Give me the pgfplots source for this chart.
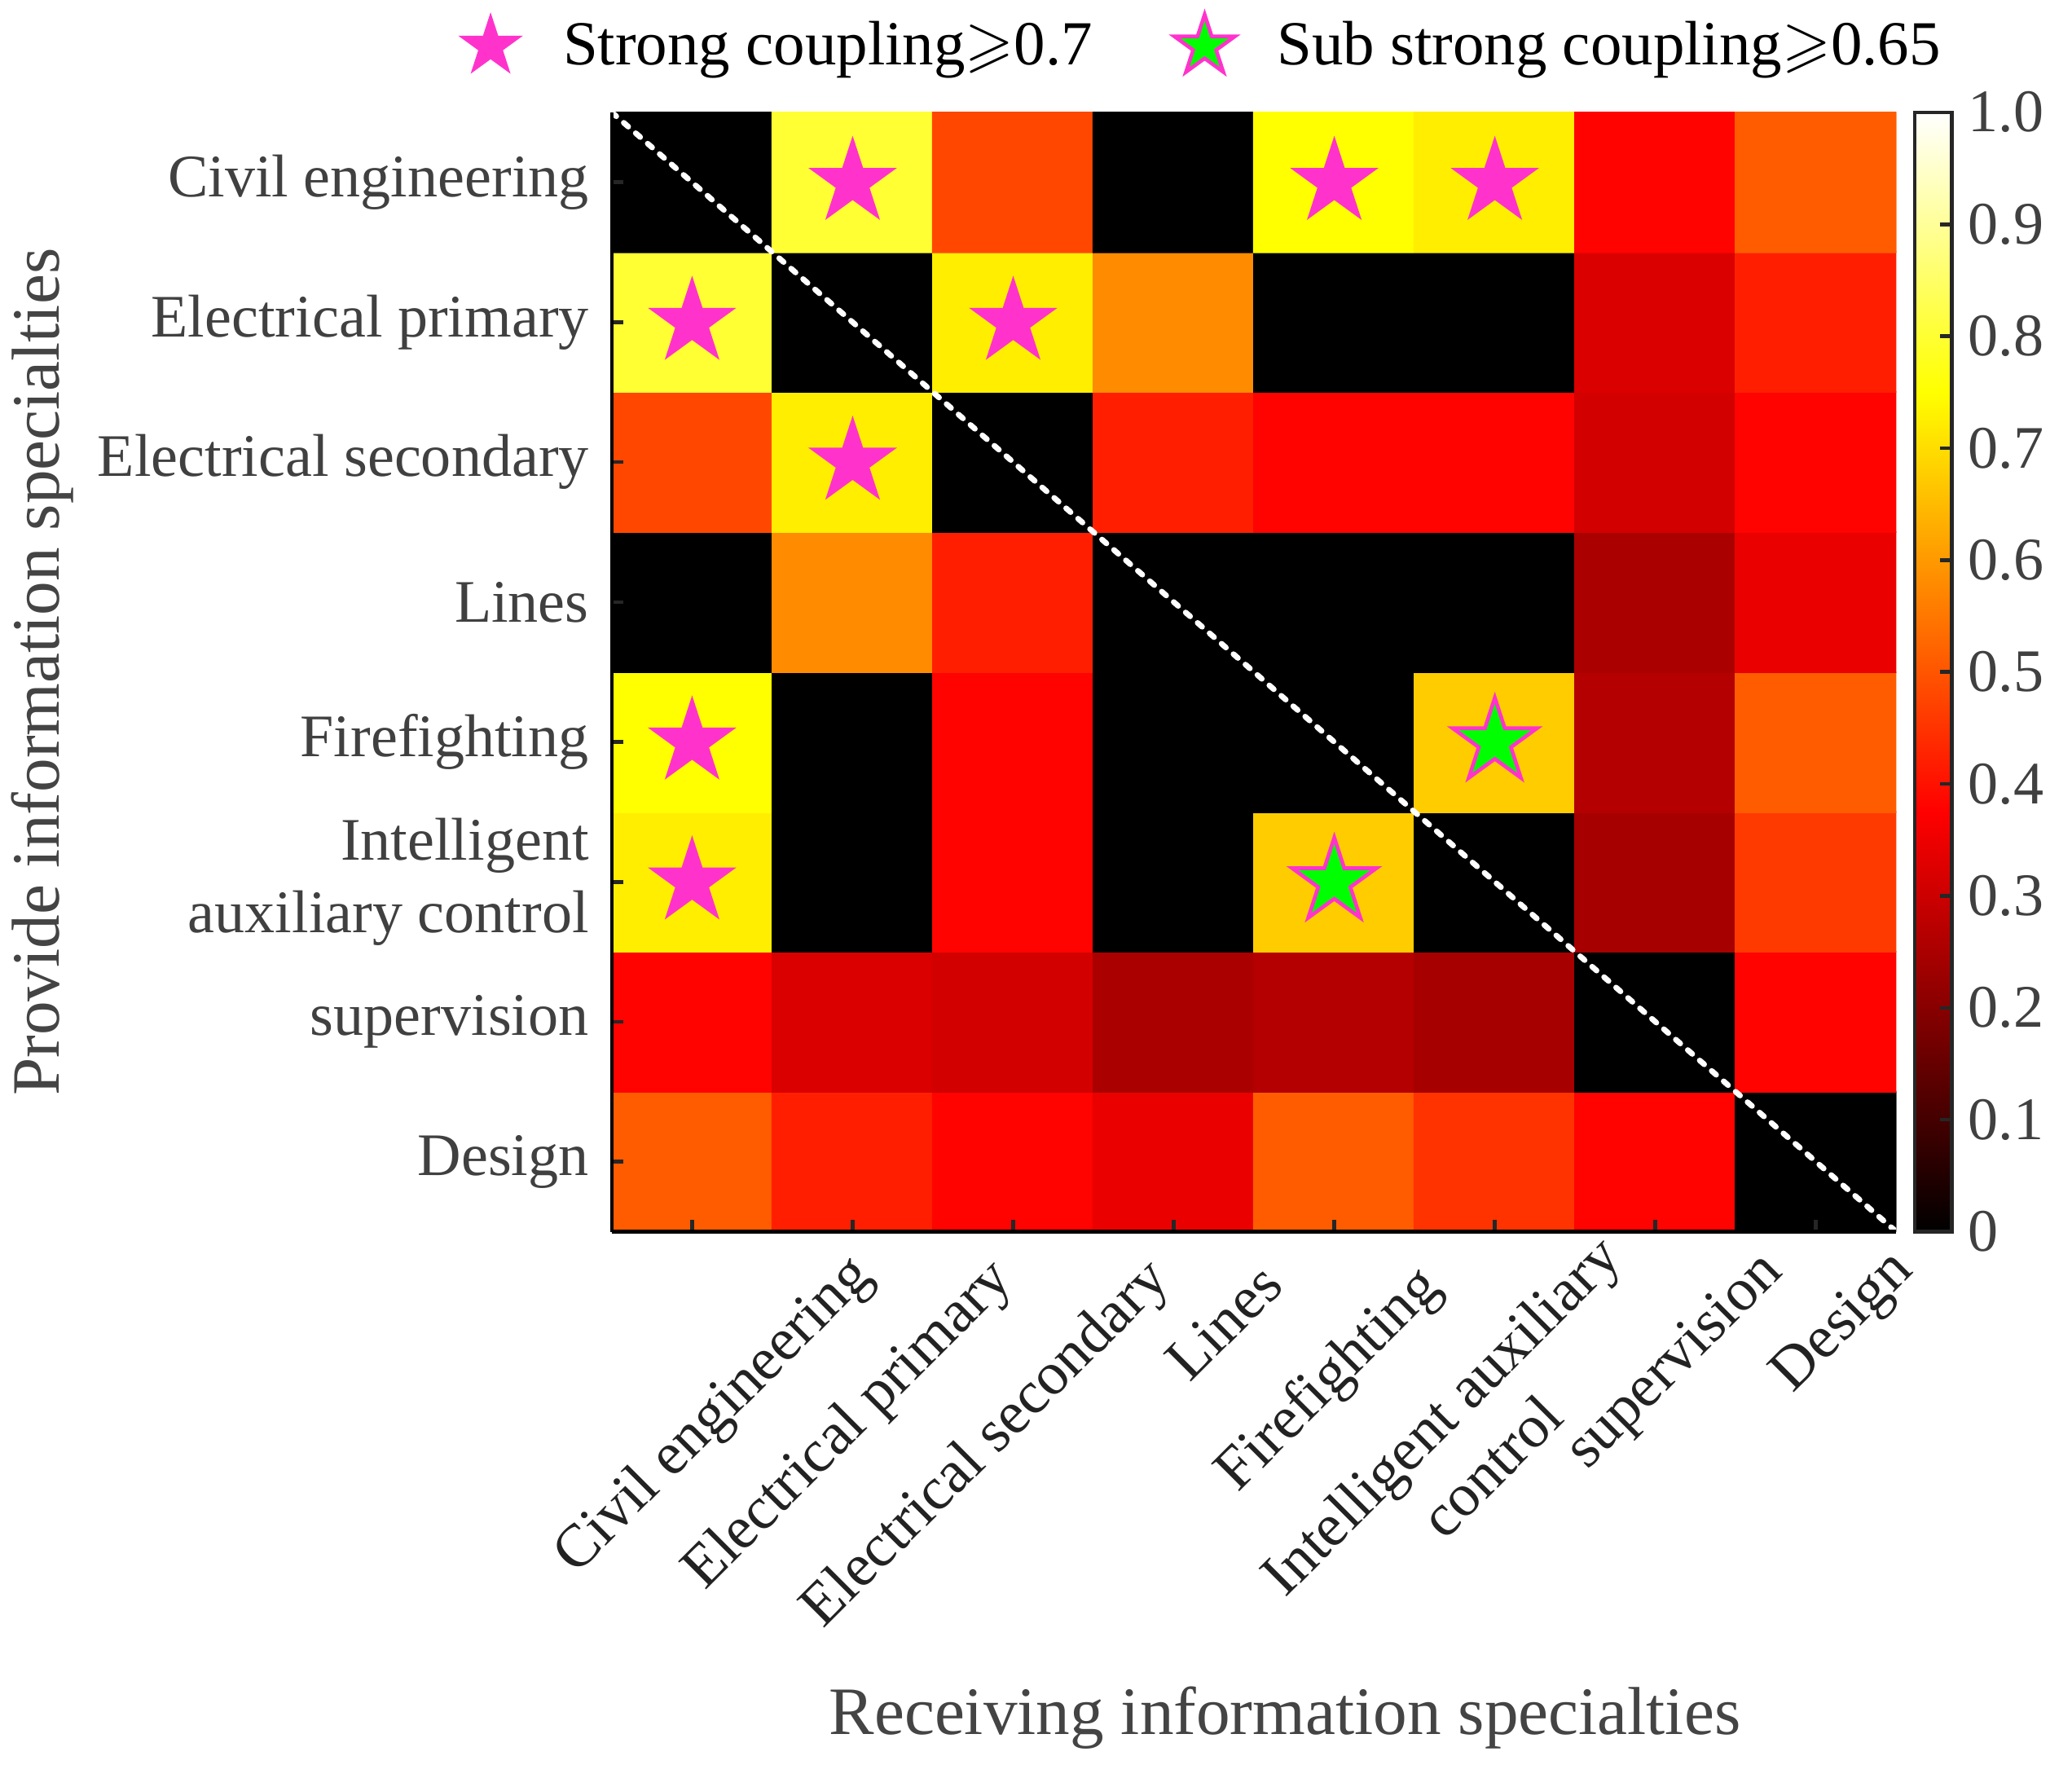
\documentclass[border=0pt]{standalone}
\usepackage{amssymb}
\usepackage{pgfplots}
\pgfplotsset{compat=1.18}
\usepackage{fontspec}
\setmainfont{Liberation Serif}
\definecolor{starmag}{RGB}{255,51,204}
\definecolor{stargreen}{RGB}{0,255,0}
\definecolor{ytxt}{RGB}{64,64,64}
\definecolor{xtxt}{RGB}{34,34,34}
\definecolor{labtxt}{RGB}{68,68,68}
\pgfplotsset{colormap={hotm}{rgb(0cm)=(0,0,0); rgb(3cm)=(1,0,0); rgb(6cm)=(1,1,0); rgb(8cm)=(1,1,1)}}
% per-label offset: #1 along the text, #2 across it (cm)
\newcommand\xl[3]{\raisebox{#2cm}[\height][\depth]{#3}\hspace*{-#1cm}}
\pgfdeclareplotmark{pentagram}{%
  \pgfpathmoveto{\pgfpointpolar{90}{\pgfplotmarksize}}%
  \pgfpathlineto{\pgfpointpolar{126}{0.382\pgfplotmarksize}}%
  \pgfpathlineto{\pgfpointpolar{162}{\pgfplotmarksize}}%
  \pgfpathlineto{\pgfpointpolar{198}{0.382\pgfplotmarksize}}%
  \pgfpathlineto{\pgfpointpolar{234}{\pgfplotmarksize}}%
  \pgfpathlineto{\pgfpointpolar{270}{0.382\pgfplotmarksize}}%
  \pgfpathlineto{\pgfpointpolar{306}{\pgfplotmarksize}}%
  \pgfpathlineto{\pgfpointpolar{342}{0.382\pgfplotmarksize}}%
  \pgfpathlineto{\pgfpointpolar{18}{\pgfplotmarksize}}%
  \pgfpathlineto{\pgfpointpolar{54}{0.382\pgfplotmarksize}}%
  \pgfpathclose
  \pgfusepathqfillstroke
}
\pgfplotstableread{
x y c
0 0 0.51
1 0 0.42
2 0 0.38
3 0 0.345
4 0 0.51
5 0 0.45
6 0 0.38
7 0 0
0 1 0.38
1 1 0.32
2 1 0.31
3 1 0.25
4 1 0.265
5 1 0.245
6 1 0
7 1 0.38
0 2 0.725
1 2 0
2 2 0.38
3 2 0
4 2 0.675
5 2 0
6 2 0.245
7 2 0.46
0 3 0.75
1 3 0
2 3 0.38
3 3 0
4 3 0
5 3 0.675
6 3 0.265
7 3 0.51
0 4 0
1 4 0.58
2 4 0.42
3 4 0
4 4 0
5 4 0
6 4 0.25
7 4 0.345
0 5 0.48
1 5 0.725
2 5 0
3 5 0.42
4 5 0.38
5 5 0.38
6 5 0.31
7 5 0.38
0 6 0.80
1 6 0
2 6 0.725
3 6 0.58
4 6 0
5 6 0
6 6 0.32
7 6 0.42
0 7 0
1 7 0.80
2 7 0.48
3 7 0
4 7 0.75
5 7 0.725
6 7 0.38
7 7 0.51
}\heat
\pgfplotstableread{
x y
1 7
4 7
5 7
0 6
2 6
1 5
0 3
0 2
}\strong
\pgfplotstableread{
x y
5 3
4 2
}\substrong
\begin{document}
\begin{tikzpicture}
\begin{axis}[
  scale only axis,
  width=9.72cm, height=8.47cm,
  xmin=-0.5, xmax=7.5, ymin=-0.5, ymax=7.5,
  axis lines*=left,
  axis line style={-, line width=0.8pt, black},
  axis on top,
  tick align=inside,
  major tick length=0.09cm,
  tick style={line width=0.8pt, color=black!85},
  xtick={0,...,7}, ytick={0,...,7},
  xticklabels={
    \xl{0.269}{-0.198}{Civil engineering},
    \xl{0.141}{-0.113}{Electrical primary},
    \xl{0.120}{-0.092}{Electrical secondary},
    \xl{-0.163}{0.106}{Lines},
    \xl{-0.184}{0.141}{Firefighting},
    \xl{0.078}{0.247}{\begin{tabular}{@{}c@{}}Intelligent auxiliary\\control\end{tabular}},
    \xl{0.007}{0.092}{supervision},
    \xl{-0.148}{0.262}{Design}},
  yticklabels={Design, supervision, Intelligent\\auxiliary control, Firefighting, Lines, Electrical secondary, Electrical primary, Civil engineering},
  xticklabel style={xshift=0.82cm, yshift=0cm, rotate=45, anchor=north east,
    font=\fontsize{13}{15.6}\selectfont, text=xtxt},
  yticklabel style={align=right, font=\fontsize{13}{15.6}\selectfont, text=ytxt, xshift=-0.05cm},
  xlabel={Receiving information specialties},
  ylabel={Provide information specialties},
  xlabel style={at={(axis description cs:0.524,0)}, anchor=center, yshift=-3.68cm, font=\fontsize{14.6}{17}\selectfont, text=labtxt},
  ylabel style={at={(axis description cs:-0.4434,0.5)}, anchor=center, font=\fontsize{14.6}{17}\selectfont, text=labtxt},
  colormap name=hotm,
  point meta min=0, point meta max=1,
  colorbar,
  colorbar style={
    at={(parent axis.north east)}, anchor=north west, xshift=-0.16cm,
    scale only axis,
    width=0.28cm,
    ytick={0,0.1,0.2,0.3,0.4,0.5,0.6,0.7,0.8,0.9,1},
    yticklabels={0,0.1,0.2,0.3,0.4,0.5,0.6,0.7,0.8,0.9,1.0},
    yticklabel style={font=\fontsize{13}{15.6}\selectfont, text=ytxt},
    ytick pos=right,
    tick align=inside,
    major tick length=0.09cm,
    tick style={line width=0.8pt, color=black!85},
    axis line style={line width=0.8pt, black!85},
  },
  legend style={at={(axis description cs:0.462,1)}, anchor=center, yshift=0.5cm, draw=none, fill=none,
    font=\fontsize{13.5}{16}\selectfont, legend columns=2,
    /tikz/every odd column/.append style={column sep=0.25cm},
    /tikz/every even column/.append style={column sep=0.55cm}},
  legend cell align=left,
]
\addplot[matrix plot*, mesh/cols=8, point meta=explicit, forget plot] table[x=x, y=y, meta=c] {\heat};
\addplot[white, line width=1.2pt, line cap=round, dash pattern=on 0.45mm off 0.75mm, forget plot] coordinates {(-0.5,7.5) (7.5,-0.5)};
\addplot[only marks, mark=pentagram, mark size=3.35mm, mark options={fill=starmag, draw=starmag, line width=0.3pt}, forget plot] table[x=x, y=y] {\strong};
\addplot[only marks, mark=pentagram, mark size=3.35mm, mark options={fill=stargreen, draw=starmag, line width=0.8pt}, forget plot] table[x=x, y=y] {\substrong};
\addlegendimage{only marks, mark=pentagram, mark size=2.4mm, mark options={fill=starmag, draw=starmag, line width=0.3pt}}
\addlegendentry{Strong coupling$\geqslant$0.7}
\addlegendimage{only marks, mark=pentagram, mark size=2.4mm, mark options={fill=stargreen, draw=starmag, line width=0.8pt}}
\addlegendentry{Sub strong coupling$\geqslant$0.65}
\end{axis}
\pgfresetboundingbox
\path[use as bounding box] (-4.63,-4.13) rectangle (11.05,9.32);
\end{tikzpicture}
\end{document}
